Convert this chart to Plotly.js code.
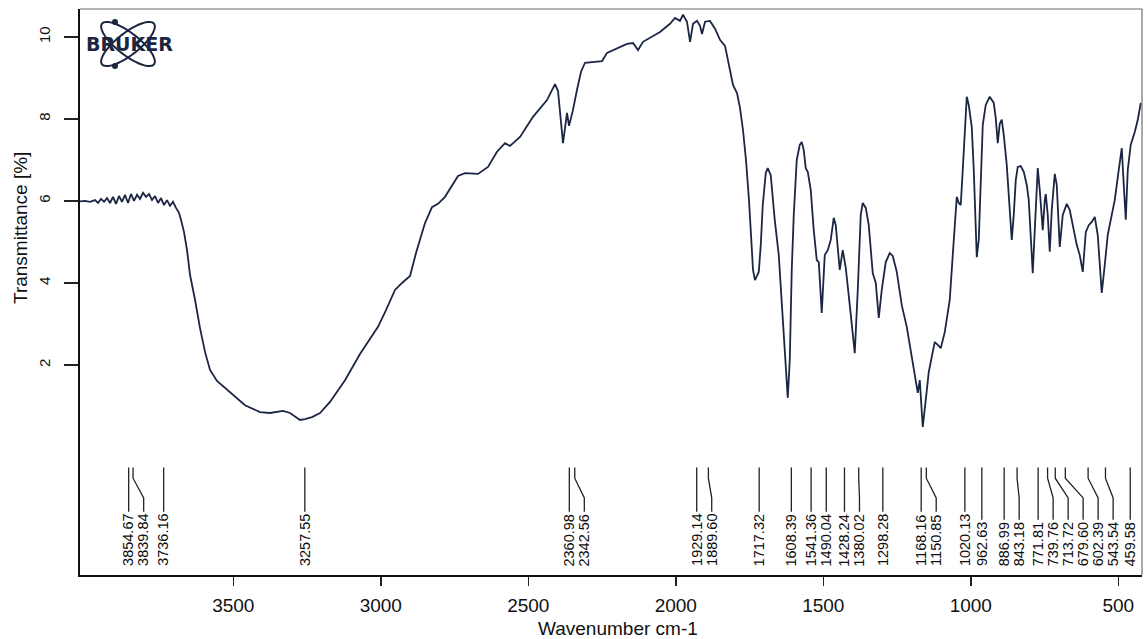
<!DOCTYPE html>
<html><head><meta charset="utf-8">
<script src="https://cdn.plot.ly/plotly-3.0.1.min.js"></script>
<style>html,body{margin:0;padding:0;background:#fff}#chart{width:1148px;height:639px}</style>
</head><body><div id="chart"></div>
<script>
// ---- data ----
const wavenumber = [4019.7,4002.7,3985.8,3968.8,3958.6,3948.5,3938.3,3928.1,3918.0,3907.8,3897.6,3887.5,3877.3,3867.1,3856.9,3846.8,3836.6,3826.4,3816.3,3806.1,3795.9,3785.8,3775.6,3765.4,3755.2,3745.1,3734.9,3724.7,3714.6,3704.4,3694.2,3684.1,3677.3,3667.1,3656.9,3646.8,3629.8,3612.9,3595.9,3579.0,3555.3,3511.2,3460.3,3409.5,3375.6,3331.5,3307.8,3273.9,3256.9,3233.2,3206.1,3172.2,3121.4,3070.5,3009.5,2982.4,2951.9,2928.1,2901.0,2880.7,2850.2,2826.4,2806.1,2782.4,2758.6,2738.3,2714.6,2670.5,2636.6,2606.1,2579.0,2562.0,2528.1,2484.1,2436.6,2409.5,2399.3,2389.2,2382.4,2375.6,2368.8,2362.0,2348.5,2334.9,2321.3,2307.8,2267.1,2250.0,2233.2,2199.3,2165.4,2145.1,2128.1,2111.2,2080.7,2053.6,2019.7,2002.7,1985.8,1975.6,1962.1,1951.7,1941.7,1928.1,1917.9,1911.2,1901.0,1884.1,1867.1,1850.2,1833.2,1823.1,1806.1,1792.6,1782.4,1772.3,1762.1,1751.9,1745.1,1738.3,1731.6,1724.4,1718.8,1712.0,1705.3,1695.1,1688.3,1678.2,1664.6,1651.0,1640.9,1630.7,1620.5,1613.7,1607.0,1600.2,1590.0,1579.8,1573.1,1566.3,1559.5,1552.7,1542.6,1532.4,1522.2,1515.4,1505.3,1495.1,1484.9,1474.8,1464.6,1457.8,1451.0,1444.3,1434.1,1423.9,1410.3,1393.4,1383.2,1373.1,1366.3,1356.1,1345.9,1332.4,1322.2,1312.0,1301.9,1288.3,1274.7,1264.6,1251.0,1234.1,1217.1,1203.6,1190.0,1179.8,1173.0,1162.9,1152.7,1142.5,1132.4,1122.2,1112.0,1101.9,1088.3,1071.4,1061.2,1054.4,1047.6,1040.9,1034.1,1027.3,1020.5,1013.7,1007.0,996.8,990.0,983.2,979.8,973.1,966.3,959.5,949.4,935.8,922.2,915.5,908.7,901.9,895.1,888.3,878.2,871.4,861.2,854.4,847.6,840.9,830.7,820.5,810.3,803.6,796.8,790.0,783.2,776.5,773.1,766.3,756.1,749.3,745.9,739.2,732.4,725.6,715.4,708.7,698.5,688.3,674.7,664.6,654.4,640.9,630.7,620.5,610.3,600.2,590.0,579.8,569.7,562.9,556.1,545.9,535.8,525.6,512.1,498.5,488.3,481.5,474.7,467.9,457.8,444.2,434.0,423.9];
const transmittance = [5.99,6.00,5.98,6.02,5.95,6.05,5.98,6.07,5.95,6.10,5.93,6.12,5.98,6.15,5.95,6.17,6.00,6.15,6.05,6.20,6.10,6.17,6.02,6.12,5.95,6.07,5.90,6.02,5.88,5.98,5.83,5.71,5.54,5.24,4.80,4.20,3.59,2.90,2.32,1.88,1.61,1.34,1.02,0.85,0.83,0.88,0.83,0.66,0.68,0.73,0.83,1.10,1.63,2.27,2.93,3.34,3.83,4.00,4.17,4.73,5.46,5.85,5.93,6.10,6.37,6.61,6.68,6.66,6.83,7.20,7.41,7.34,7.56,8.05,8.46,8.85,8.68,7.98,7.41,7.78,8.15,7.83,8.22,8.71,9.15,9.37,9.39,9.41,9.61,9.71,9.83,9.85,9.68,9.88,10.00,10.12,10.32,10.46,10.39,10.54,10.37,9.88,10.32,10.39,10.27,10.07,10.37,10.39,10.20,9.93,9.78,9.44,8.83,8.63,8.27,7.73,7.00,6.02,5.05,4.32,4.07,4.17,4.27,4.93,5.90,6.68,6.80,6.63,5.54,4.68,3.59,2.37,1.20,2.12,4.32,5.66,7.00,7.37,7.44,7.24,6.80,6.71,6.27,5.29,4.56,4.51,3.27,4.68,4.80,5.05,5.59,5.41,4.93,4.32,4.80,4.37,3.46,2.29,3.83,5.66,5.95,5.83,5.41,4.24,4.00,3.15,3.83,4.51,4.73,4.66,4.27,3.46,2.93,2.37,1.76,1.32,1.63,0.49,1.15,1.83,2.20,2.56,2.49,2.41,2.80,3.59,4.68,5.41,6.10,5.95,5.90,6.76,7.73,8.54,8.34,7.80,6.76,5.54,4.63,5.05,6.51,7.85,8.34,8.54,8.39,8.02,7.41,7.88,7.98,7.61,6.88,6.02,5.05,5.66,6.51,6.83,6.85,6.71,6.39,6.02,5.17,4.24,5.29,6.51,6.80,6.27,5.29,6.02,6.17,5.66,4.76,5.78,6.66,6.39,4.88,5.66,5.93,5.78,5.41,4.93,4.68,4.27,5.24,5.41,5.49,5.61,5.17,4.44,3.76,4.44,5.17,5.54,6.02,6.76,7.29,6.39,5.54,6.76,7.37,7.68,7.98,8.39];
const peakPositions = [3854.67,3839.84,3736.16,3257.55,2360.98,2342.56,1929.14,1889.60,1717.32,1608.39,1541.36,1490.04,1428.24,1380.02,1298.28,1168.16,1150.85,1020.13,962.63,886.99,843.18,771.81,739.76,713.72,679.60,602.39,543.54,459.58];
const xTickValues = [3500,3000,2500,2000,1500,1000,500];
const xTickLabels = ['3500','3000','2500','2000','1500','1000','500'];
const yTickValues = [2,4,6,8,10];
const yTickLabels = ['2','4','6','8','10'];

// ---- layout geometry ----
const W = 1148, H = 639;
const margin = {l:80, r:6, t:9, b:64};
const plotW = W - margin.l - margin.r, plotH = H - margin.t - margin.b;
const xRange = [4019.7, 419.7], yRange = [-3.12, 10.68];
const wnPerPx = (xRange[0] - xRange[1]) / plotW;
const tPerPx = (yRange[1] - yRange[0]) / plotH;
const FONT = 'Liberation Sans, Arial, sans-serif';
const ink = '#111111';

// peak label placement (OPUS-like de-overlap)
const minSepWn = 15 * wnPerPx;
const labelX = [];
peakPositions.forEach((p, i) => labelX.push(i === 0 ? p : Math.min(p, labelX[i-1] - minSepWn)));
const topT = -0.5, bendA = -0.76, bendB = -1.24, textBottomT = -2.93;
const labelFontSize = 14.5;

const shapes = [];
const annotations = [];
peakPositions.forEach((p, i) => {
  const txt = p.toFixed(2);
  const lenPx = labelFontSize * ((txt.length - 1) * 0.556 + 0.278);
  const bottomT = textBottomT + (lenPx + 3) * tPerPx;
  const lx = labelX[i];
  const path = (Math.abs(lx - p) < 0.01)
    ? `M${p},${topT} L${p},${bottomT}`
    : `M${p},${topT} L${p},${bendA} L${lx},${bendB} L${lx},${bottomT}`;
  shapes.push({type:'path', xref:'x', yref:'y', path:path, line:{color:'#222', width:1.3}});
  annotations.push({text:txt, x:lx, y:textBottomT, xref:'x', yref:'y', textangle:-90,
    xanchor:'center', yanchor:'bottom', showarrow:false, borderpad:0,
    font:{family:FONT, size:labelFontSize, color:'#0d0d0d'}});
});

// frame top/right
shapes.push({type:'line', xref:'paper', yref:'paper', x0:0, x1:1, y0:1, y1:1, line:{color:'#9a9a9a', width:1.5}});
shapes.push({type:'line', xref:'paper', yref:'paper', x0:1, x1:1, y0:0, y1:1, line:{color:'#555', width:1}});

// axis titles
annotations.push({text:'Wavenumber cm-1', xref:'paper', yref:'paper', x:(618-margin.l)/plotW, y:0,
  yshift:-53, xanchor:'center', yanchor:'middle', showarrow:false, font:{family:FONT, size:19, color:ink}});
annotations.push({text:'Transmittance [%]', xref:'paper', yref:'paper', x:0, xshift:-59,
  y:(H - margin.b - 228)/plotH, textangle:-90, xanchor:'center', yanchor:'middle', showarrow:false,
  font:{family:FONT, size:19, color:ink}});

// Bruker logo (decoration)
const px = x => (x - margin.l) / plotW;
const py = y => (H - margin.b - y) / plotH;
function ellipse(cx, cy, a, b, deg) {
  const th = deg * Math.PI / 180; let d = '';
  for (let k = 0; k <= 48; k++) {
    const t = 2 * Math.PI * k / 48;
    const ex = a * Math.cos(t), ey = b * Math.sin(t);
    const X = cx + ex * Math.cos(th) - ey * Math.sin(th);
    const Y = cy + ex * Math.sin(th) + ey * Math.cos(th);
    d += (k === 0 ? 'M' : 'L') + px(X).toFixed(5) + ',' + py(Y).toFixed(5) + ' ';
  }
  return d + 'Z';
}
shapes.push({type:'path', xref:'paper', yref:'paper', path:ellipse(128, 44, 33, 11, 38), line:{color:'#1d2640', width:2}});
shapes.push({type:'path', xref:'paper', yref:'paper', path:ellipse(128, 44, 33, 11, -38), line:{color:'#1d2640', width:2}});
shapes.push({type:'circle', xref:'paper', yref:'paper', x0:px(112), x1:px(118), y0:py(19), y1:py(25), fillcolor:'#1d2640', line:{width:0}});
shapes.push({type:'circle', xref:'paper', yref:'paper', x0:px(112), x1:px(118), y0:py(63), y1:py(69), fillcolor:'#1d2640', line:{width:0}});
annotations.push({text:'<b>BRUKER</b>', xref:'paper', yref:'paper', x:px(129), y:py(44), xanchor:'center', yanchor:'middle',
  showarrow:false, font:{family:'DejaVu Sans, sans-serif', size:19, color:'#1d2640'}});

const trace = {x: wavenumber, y: transmittance, type:'scatter', mode:'lines',
  line:{color:'#1b2643', width:1.8}, hoverinfo:'x+y'};

const layout = {
  width: W, height: H, margin: margin, showlegend:false,
  paper_bgcolor:'#ffffff', plot_bgcolor:'#ffffff',
  xaxis: {range:xRange, autorange:false, tickmode:'array', tickvals:xTickValues, ticktext:xTickLabels,
    ticks:'outside', ticklen:9, tickwidth:1.5, tickcolor:'#222', showline:true, linecolor:'#111', linewidth:2,
    showgrid:false, zeroline:false, ticklabelstandoff:3, tickfont:{family:FONT, size:19, color:ink}},
  yaxis: {range:yRange, autorange:false, tickmode:'array', tickvals:yTickValues, ticktext:yTickLabels,
    ticks:'outside', ticklen:14, tickwidth:1.5, tickcolor:'#222', tickangle:-90, showline:true, linecolor:'#111', linewidth:2,
    showgrid:false, zeroline:false, ticklabelstandoff:8, tickfont:{family:FONT, size:15, color:ink}},
  shapes: shapes, annotations: annotations
};
Plotly.newPlot('chart', [trace], layout, {staticPlot:true, displayModeBar:false});
</script></body></html>
